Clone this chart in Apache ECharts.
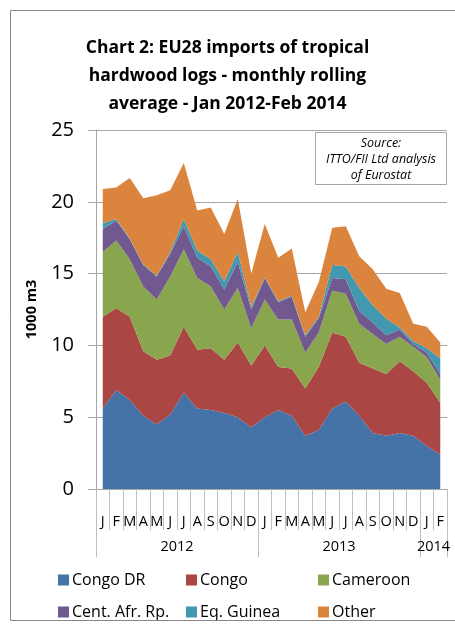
<!DOCTYPE html>
<html>
<head>
<meta charset="utf-8">
<script src="https://cdn.jsdelivr.net/npm/echarts@6/dist/echarts.min.js"></script>
<style>
  html, body { margin: 0; padding: 0; background: #fff; }
  #chart { width: 455px; height: 629px; }
</style>
</head>
<body>
<div id="chart"></div>
<script>
// months Jan 2012 - Feb 2014
const categories = ['2012-01', '2012-02', '2012-03', '2012-04', '2012-05', '2012-06', '2012-07', '2012-08', '2012-09', '2012-10', '2012-11', '2012-12',
  '2013-01', '2013-02', '2013-03', '2013-04', '2013-05', '2013-06', '2013-07', '2013-08', '2013-09', '2013-10', '2013-11', '2013-12',
  '2014-01', '2014-02']
const monthLabels = ['J', 'F', 'M', 'A', 'M', 'J', 'J', 'A', 'S', 'O', 'N', 'D',
  'J', 'F', 'M', 'A', 'M', 'J', 'J', 'A', 'S', 'O', 'N', 'D', 'J', 'F']
const yearLabels = ['2012', '2013', '2014']
const yearCenters = [6, 18, 25] // label position on the 0..26 month scale
const yearBounds = [0, 12, 24, 26]

// 1000 m3
const congoDR = [5.6, 6.9, 6.2, 5.1, 4.5, 5.2, 6.7, 5.6, 5.5, 5.3, 5.0, 4.3, 5.0, 5.5, 5.1, 3.7, 4.1, 5.6, 6.1, 5.1, 3.9, 3.7, 3.9, 3.7, 3.0, 2.4]
const congo = [6.4, 5.7, 5.8, 4.5, 4.5, 4.1, 4.6, 4.1, 4.3, 3.7, 5.2, 4.3, 5.0, 3.0, 3.3, 3.3, 4.4, 5.3, 4.5, 3.7, 4.5, 4.3, 5.0, 4.5, 4.4, 3.6]
const cameroon = [4.5, 4.7, 4.0, 4.5, 4.2, 5.5, 5.4, 5.0, 4.3, 3.5, 3.8, 2.6, 3.2, 3.3, 3.4, 2.5, 2.4, 2.9, 3.0, 2.7, 2.4, 2.1, 1.7, 1.7, 1.8, 1.6]
const centAfr = [1.6, 1.4, 1.4, 1.5, 1.6, 1.6, 1.6, 1.4, 1.4, 1.4, 1.8, 1.3, 1.5, 1.2, 1.6, 1.1, 1.0, 0.9, 1.0, 0.9, 0.8, 0.6, 0.5, 0.2, 0.3, 0.4]
const eqGuinea = [0.4, 0.1, 0.05, 0.05, 0.05, 0.1, 0.5, 0.5, 0.5, 0.55, 0.7, 0.2, 0.05, 0.1, 0.05, 0.1, 0.1, 0.9, 0.9, 1.6, 1.2, 1.15, 0.15, 0.2, 0.3, 1.1]
const other = [2.4, 2.2, 4.2, 4.6, 5.6, 4.3, 3.9, 2.8, 3.6, 3.3, 3.7, 2.3, 3.7, 3.0, 3.3, 1.6, 2.4, 2.6, 2.8, 2.2, 2.5, 2.1, 2.4, 1.2, 1.5, 1.1]

const seriesNames = ['Congo DR', 'Congo', 'Cameroon', 'Cent. Afr. Rp.', 'Eq. Guinea', 'Other']
const seriesData = [congoDR, congo, cameroon, centAfr, eqGuinea, other]
const colors = ['#4572A7', '#AA4643', '#89A54E', '#71588F', '#4198AF', '#DB843D']

const font = 'Open Sans'
const gridGray = '#a6a6a6'

const chart = echarts.init(document.getElementById('chart'))

// legend in 3 columns, 2 rows
const legendCols = [53, 181, 313]
const legends = legendCols.map((x, c) => ({
  data: [seriesNames[c], seriesNames[c + 3]],
  orient: 'vertical',
  left: x,
  top: 567,
  itemWidth: 11,
  itemHeight: 11,
  itemGap: 16,
  icon: 'rect',
  textStyle: { fontSize: 16, color: '#000', padding: [0, 0, 0, -2] }
}))

const option = {
  animation: false,
  color: colors,
  textStyle: { fontFamily: font, color: '#000' },
  title: {
    text: 'Chart 2: EU28 imports of tropical\nhardwood logs - monthly rolling\naverage - Jan 2012-Feb 2014',
    left: 'center',
    top: 29,
    textStyle: { fontFamily: font, fontSize: 17.5, fontWeight: 'bold', lineHeight: 28, color: '#000' }
  },
  legend: legends,
  grid: { left: 96, right: 8, top: 130, bottom: 140 },
  xAxis: [
    {
      type: 'category',
      data: categories,
      boundaryGap: true,
      position: 'bottom',
      axisLine: { lineStyle: { color: gridGray } },
      axisTick: { show: true, interval: 0, length: 41, lineStyle: { color: '#bfbfbf' } },
      axisLabel: {
        interval: 0,
        margin: 25,
        fontSize: 14.5,
        color: '#000',
        formatter: (v, i) => monthLabels[i]
      }
    },
    {
      type: 'value',
      min: 0,
      max: 26,
      position: 'bottom',
      axisLine: { show: false },
      splitLine: { show: false },
      axisTick: { show: true, length: 68, customValues: yearBounds, lineStyle: { color: '#bfbfbf' } },
      axisLabel: {
        customValues: yearCenters,
        margin: 50,
        fontSize: 14.5,
        color: '#000',
        formatter: (v) => yearLabels[yearCenters.indexOf(v)]
      }
    }
  ],
  yAxis: {
    type: 'value',
    min: 0,
    max: 25,
    interval: 5,
    name: '1000 m3',
    nameLocation: 'middle',
    nameGap: 57,
    nameTextStyle: { fontSize: 14.5, fontWeight: 'bold', color: '#000' },
    axisLine: { show: true, lineStyle: { color: gridGray } },
    axisTick: { show: true, length: 8, lineStyle: { color: gridGray } },
    axisLabel: { fontSize: 20, margin: 22, color: '#000' },
    splitLine: { lineStyle: { color: gridGray } }
  },
  graphic: [
    {
      type: 'rect',
      shape: { x: 10.5, y: 10.5, width: 470, height: 610 },
      style: { fill: 'none', stroke: '#878787', lineWidth: 1 },
      z: 100
    },
    {
      type: 'group',
      left: 315,
      top: 132,
      z: 100,
      children: [
        {
          type: 'rect',
          shape: { x: 0.5, y: 0.5, width: 131, height: 52 },
          style: { fill: '#fff', stroke: '#a6a6a6', lineWidth: 1 }
        },
        {
          type: 'text',
          x: 66,
          y: 3,
          style: {
            text: 'Source:\nITTO/FII Ltd analysis\nof Eurostat',
            align: 'center',
            fontFamily: font,
            fontStyle: 'italic',
            fontSize: 12.5,
            lineHeight: 16,
            fill: '#000'
          }
        }
      ]
    }
  ],
  series: seriesNames.map((name, k) => ({
    name: name,
    type: 'line',
    stack: 'total',
    data: seriesData[k],
    symbol: 'none',
    lineStyle: { width: 0 },
    areaStyle: { color: colors[k], opacity: 1 },
    xAxisIndex: 0
  }))
}

chart.setOption(option)
</script>
</body>
</html>
